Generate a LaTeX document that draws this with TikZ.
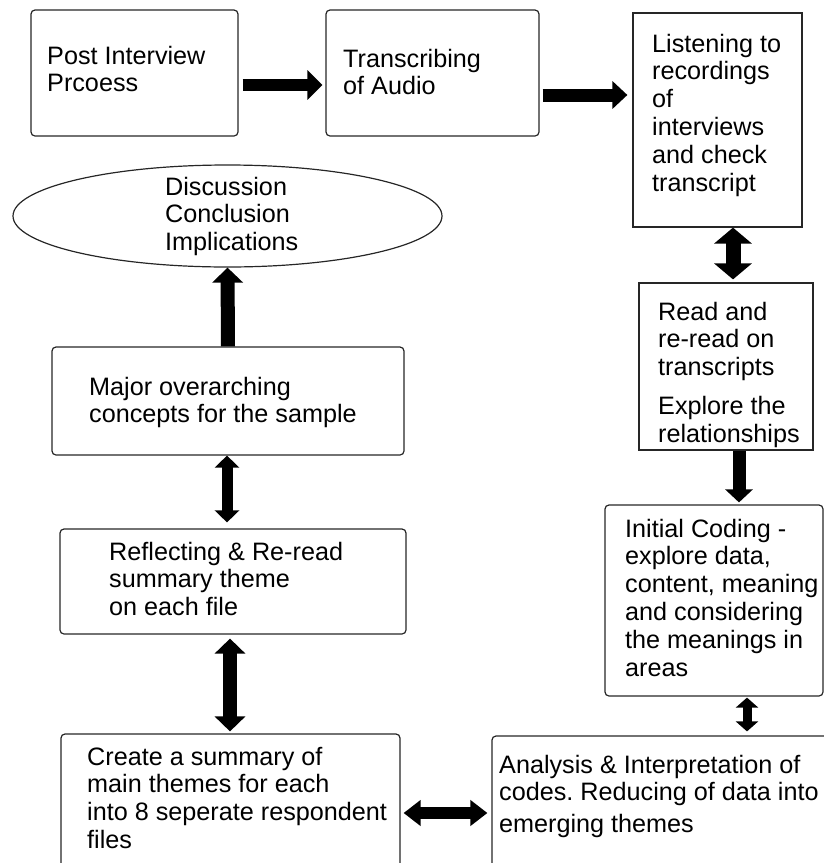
\documentclass[tikz,border=0pt]{standalone}
\usepackage{fontspec}
\setmainfont{Liberation Sans}
\usetikzlibrary{arrows.meta,shapes.geometric}
% multi-line label whose baseline is the first line
\newcommand\linesof[1]{\begin{tabular}[t]{@{}l@{}}#1\end{tabular}}
\frenchspacing
\begin{document}
\begin{tikzpicture}[x=1pt,y=-1pt,
  box/.style={draw=black!85, line width=1.2pt, rounded corners=4pt, inner sep=0pt},
  sbox/.style={box, sharp corners},
  oval/.style={draw=black!85, line width=1.2pt, ellipse, inner sep=0pt},
  lbl/.style={anchor=base west, inner sep=0pt, font=\fontsize{25.2}{27.8}\selectfont},
  flow/.style={draw=black, line width=#1}
]
\path[use as bounding box] (0,0) rectangle (824,863);
\clip (0,0) rectangle (824,863);

% process boxes
\node[box,  minimum width=207pt, minimum height=126pt] (b1) at (134.5,73) {};
\node[box,  minimum width=213pt, minimum height=126pt] (b2) at (432.5,73) {};
\node[sbox, minimum width=169pt, minimum height=214pt] (b3) at (717.5,120) {};
\node[sbox, minimum width=174pt, minimum height=167pt] (b4) at (726,366.5) {};
\node[box,  minimum width=218pt, minimum height=191pt] (b5) at (714,600.5) {};
\node[box,  minimum width=408pt, minimum height=214pt] (b6) at (696,843) {};
\node[box,  minimum width=339pt, minimum height=216pt] (b7) at (230.5,842) {};
\node[box,  minimum width=346pt, minimum height=105pt] (b8) at (233,581.5) {};
\node[box,  minimum width=352pt, minimum height=108pt] (b9) at (228,401) {};
\node[oval, minimum width=429pt, minimum height=102pt] (ell) at (227.5,216) {};

% texts
\node[lbl] (t1) at (47,64) {\linesof{Post Interview\\Prcoess}};
\node[lbl] (t2) at (343,67) {\linesof{Transcribing\\of Audio}};
\node[lbl] (t3) at (652,52) {\linesof{Listening to\\recordings\\of\\interviews\\and check\\transcript}};
\node[lbl] (t4) at (658,320) {\linesof{Read and\\re-read on\\transcripts\\[11pt]Explore the\\relationships}};
\node[lbl] (t5) at (625,537) {\linesof{Initial Coding -\\explore data,\\content, meaning\\and considering\\the meanings in\\areas}};
\node[lbl] (t6) at (499,773) {\linesof{Analysis \& Interpretation of\\codes. Reducing of data into\\[4pt]emerging themes}};
\node[lbl] (t7) at (87,765) {\linesof{Create a summary of\\main themes for each\\into 8 seperate respondent\\files}};
\node[lbl] (t8) at (109,560) {\linesof{Reflecting \& Re-read\\summary theme\\on each file}};
\node[lbl] (t9) at (89,395) {\linesof{Major overarching\\concepts for the sample}};
\node[lbl] (te) at (165,195) {\linesof{Discussion\\Conclusion\\Implications}};

% anchor points of the block arrows
\coordinate (a1) at ([yshift=-12pt]b1.east);
\coordinate (a2) at ([yshift=-22pt]b2.east);
\coordinate (a3) at ([xshift=15.5pt]b3.south);
\coordinate (a4) at ([xshift=13pt]b4.south);
\coordinate (a5) at ([xshift=33pt]b5.south);
\coordinate (a6) at ([yshift=29pt]b7.east);
\coordinate (a7) at ([xshift=-3pt]b8.south);
\coordinate (a8) at ([xshift=-1pt]b9.south);

% block arrows
\draw[flow=12pt, -{Triangle[length=15pt,width=29pt]}, shorten <=4pt, shorten >=3pt] (a1) -- (a1 -| b2.west);
\draw[flow=13pt, -{Triangle[length=15pt,width=27pt]}, shorten <=3pt, shorten >=5pt] (a2) -- (a2 -| b3.west);
\draw[flow=15pt, {Triangle[length=16pt,width=37pt]}-{Triangle[length=16pt,width=37pt]}, shorten >=3pt] (a3) -- (a3 |- b4.north);
\draw[flow=13pt, -{Triangle[length=13pt,width=27pt]}, shorten >=2pt] (a4) -- (a4 |- b5.north);
\draw[flow=9pt, {Triangle[length=10pt,width=22pt]}-{Triangle[length=10pt,width=22pt]}, shorten <=1pt, shorten >=4pt] (a5) -- (a5 |- b6.north);
\draw[flow=12pt, {Triangle[length=17pt,width=25pt]}-{Triangle[length=17pt,width=25pt]}, shorten <=3pt, shorten >=4pt] (a6) -- (a6 -| b6.west);
\draw[flow=14pt, {Triangle[length=15pt,width=30pt]}-{Triangle[length=15pt,width=30pt]}, shorten <=4pt, shorten >=2pt] (a7) -- (a7 |- b7.north);
\draw[flow=11pt, {Triangle[length=12pt,width=24pt]}-{Triangle[length=12pt,width=24pt]}, shorten >=6pt] (a8) -- (a8 |- b8.north);
\draw[flow=14pt, -{Triangle[length=15pt,width=30pt]}] (b9.north) -- (ell.south);
\end{tikzpicture}
\end{document}
